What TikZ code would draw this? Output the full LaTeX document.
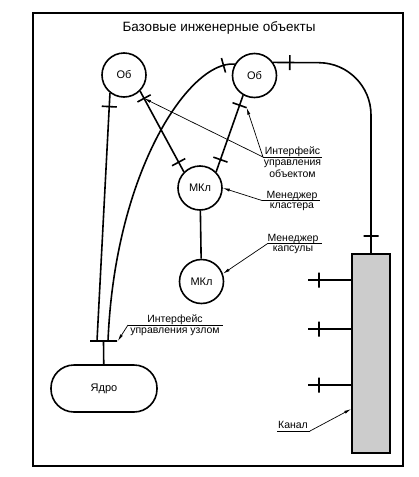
\documentclass[tikz,border=0pt]{standalone}
\usepackage{fontspec}
\setmainfont{Liberation Sans}
\usetikzlibrary{arrows.meta,calc}
\begin{document}
\begin{tikzpicture}[x=1pt,y=-1pt,
		conn/.style={line width=1.6pt},
		obj/.style={circle,draw,line width=1.6pt,minimum size=44pt,inner sep=0pt,font=\fontsize{11}{13}\selectfont},
		ifmark/.style={draw,sharp corners,line width=1.6pt,sloped,inner sep=0pt,outer sep=0pt,minimum width=0pt,minimum height=15pt},
		callout/.style={line width=0.7pt,-{Latex[length=7pt,width=3pt]}},
		uline/.style={line width=0.7pt},
		lbl/.style={font=\fontsize{10.5}{12.5}\selectfont,inner sep=0pt,align=center}]
			\useasboundingbox (0,0) rectangle (419,477);
			\draw[line width=2.4pt] (33,13) rectangle (403,466);
			\node[font=\fontsize{13.5}{15}\selectfont,anchor=base] (title) at (219,31) {Базовые инженерные объекты};
			\node[obj] (Ob1) at (124,75) {Об};
			\node[obj] (Ob2) at (254.5,75.5) {Об};
			\node[obj] (MKl1) at (200,188) {МКл};
			\node[obj] (MKl2) at (201.5,281.5) {МКл};
			\node[draw,line width=1.6pt,rounded corners=23pt,minimum width=106pt,minimum height=47pt,font=\fontsize{11}{13}\selectfont] (Core) at (104,388.5) {Ядро};
			\node[draw,line width=1.6pt,fill=gray!40,minimum width=38pt,minimum height=199pt,inner sep=0pt] (Chan) at (371,353.5) {};
			\node[draw,line width=1.6pt,inner sep=0pt,minimum width=27pt,minimum height=0pt] (nif) at (103.5,341) {};
			\coordinate (nifL) at (97,341);
			\coordinate (nifR) at (108,341);
			\coordinate (bend) at (371,63);
			\draw[conn] (Ob1.south east) -- node[ifmark,pos=0.09] (t1) {} node[ifmark,pos=0.88] {} (MKl1.north west);
			\draw[conn] (Ob2.-120) -- node[ifmark,pos=0.13] (t2) {} node[ifmark,pos=0.84] {} (MKl1.north east);
			\draw[conn] (MKl1) -- (MKl2);
			\draw[conn] (Ob1.-128) -- node[ifmark,pos=0.055] {} (nifL);
			\draw[conn] (Ob2.150) .. controls (190,60) and (115,170) .. node[ifmark,pos=0.08] {} (nifR);
			\draw[conn,rounded corners=52pt] (Ob2.35) -- (bend) -- (Chan.north);
			\path (Ob2.35) -- node[ifmark,pos=0.17] {} (bend);
			\path (bend) -- node[ifmark,pos=0.91] {} (Chan.north);
			\draw[conn] (nif) -- (Core);
			\foreach \y in {280,329,385}
				\draw[conn] (Chan.west |- 0,\y) -- node[ifmark,pos=0.75] {} (308,\y);
			\coordinate (ifObj) at (263,157);
			\draw[uline] (ifObj) -- ++(59,0);
			\node[lbl,anchor=base] (ifObjA) at (292.5,154.5) {Интерфейс};
			\node[lbl,anchor=north] (ifObjB) at (292.5,159.5) {управления\\объектом};
			\draw[callout] (ifObj) -- (t1);
			\draw[callout] (ifObj) -- (t2.south);
			\coordinate (clMgr) at (262,200.5);
			\draw[uline] (clMgr) -- ++(58,0);
			\node[lbl,anchor=base] (clMgrA) at (292,198) {Менеджер};
			\node[lbl,anchor=north] (clMgrB) at (292,203) {кластера};
			\draw[callout] (clMgr) -- (MKl1.east);
			\coordinate (capMgr) at (268,243.3);
			\draw[uline] (capMgr) -- ++(54,0);
			\node[lbl,anchor=base] (capMgrA) at (293,241) {Менеджер};
			\node[lbl,anchor=north] (capMgrB) at (293,246) {капсулы};
			\draw[callout] (capMgr) -- (MKl2.20);
			\coordinate (ndIf) at (128,325);
			\draw[uline] (ndIf) -- ++(95,0);
			\node[lbl,anchor=base] (ndIfA) at (175,322.5) {Интерфейс};
			\node[lbl,anchor=north] (ndIfB) at (175,327.5) {управления узлом};
			\draw[callout] (ndIf) -- (nif.east);
			\coordinate (chLbl) at (310,431);
			\draw[uline] (chLbl) -- ++(-33,0);
			\node[lbl,anchor=base] (chLblA) at (293,428.5) {Канал};
			\draw[callout] (chLbl) -- ($(Chan.west)+(0,55.5)$);
		\end{tikzpicture}
\end{document}
